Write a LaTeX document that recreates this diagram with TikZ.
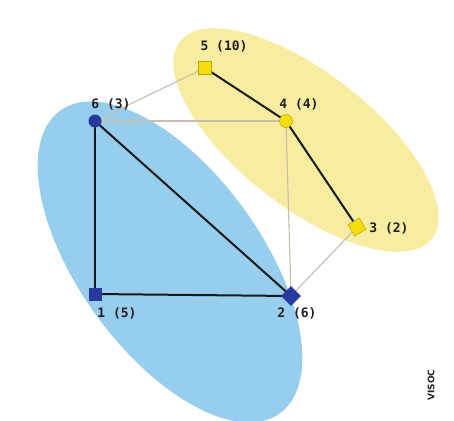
\documentclass[tikz,border=0pt]{standalone}
\usepackage{fontspec}
\setmonofont{DejaVu Sans Mono}
\setsansfont{DejaVu Sans}
\usetikzlibrary{shapes.geometric}
\definecolor{grpblue}{RGB}{140,200,236}
\definecolor{grpyellow}{RGB}{247,234,150}
\definecolor{ndblue}{RGB}{38,58,158}
\definecolor{ndyellow}{RGB}{246,222,10}
\definecolor{weak}{RGB}{198,190,175}
\tikzset{
  bsq/.style={rectangle, fill=ndblue, minimum size=13pt, inner sep=0pt},
  bci/.style={circle, fill=ndblue, minimum size=13pt, inner sep=0pt},
  ysq/.style={rectangle, fill=ndyellow, draw=ndyellow!75!black, line width=0.5pt, minimum size=13pt, inner sep=0pt},
  yci/.style={circle, fill=ndyellow, draw=ndyellow!75!black, line width=0.5pt, minimum size=13pt, inner sep=0pt},
  lbl/.style={font=\ttfamily\bfseries\fontsize{13}{13}\selectfont, text=black!88, inner sep=0pt},
  strong/.style={draw=black!90, line width=2pt},
  weakedge/.style={draw=weak, line width=1.1pt}
}
\begin{document}
\begin{tikzpicture}[x=1pt,y=-1pt]
\useasboundingbox (0,0) rectangle (454,420);
\fill[white] (0,0) rectangle (454,420);
% groups
\fill[grpblue, opacity=0.9] (170,262) ellipse[x radius=187, y radius=91, rotate=-54];
\fill[grpyellow, opacity=0.9] (306,140) ellipse[x radius=160, y radius=67, rotate=-38];
% node positions
\coordinate (n6) at (95,121);
\coordinate (n5) at (205,68);
\coordinate (n4) at (286,121);
\coordinate (n3) at (357,227);
\coordinate (n2) at (291,296);
\coordinate (n1) at (95,294);
% weak edges
\draw[weakedge] (n6) -- (n5);
\draw[weakedge] (n6) -- (n4);
\draw[weakedge] (n4) -- (n2);
\draw[weakedge] (n3) -- (n2);
% strong edges
\draw[strong] (n5) -- (n4);
\draw[strong] (n4) -- (n3);
\draw[strong] (n6) -- (n1);
\draw[strong] (n6) -- (n2);
\draw[strong] (n1) -- (n2);
% nodes
\node[bci] (v6) at (n6) {};
\node[ysq] (v5) at (n5) {};
\node[yci] (v4) at (n4) {};
\node[ysq, rotate=30] (v3) at (n3) {};
\node[bsq, rotate=45, minimum size=14pt] (v2) at (n2) {};
\node[bsq] (v1) at (n1) {};
% labels
\node[lbl] (l6) at (111,104) {6 (3)};
\node[lbl] (l5) at (224,46) {5 (10)};
\node[lbl] (l4) at (299,104) {4 (4)};
\node[lbl] (l3) at (389,228) {3 (2)};
\node[lbl] (l1) at (117,313) {1 (5)};
\node[lbl] (l2) at (297,313) {2 (6)};
\node[font=\sffamily\bfseries\fontsize{9}{9}\selectfont, rotate=90, text=black!85] (vi) at (431,385) {VISOC};
\end{tikzpicture}
\end{document}
